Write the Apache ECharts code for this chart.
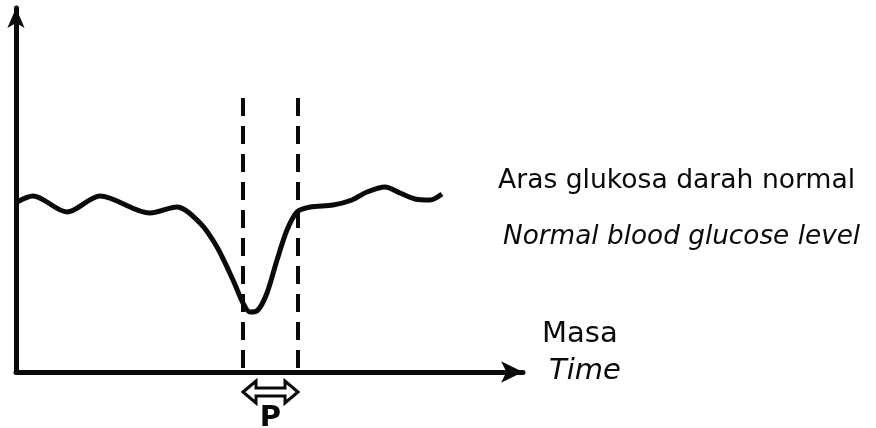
<!DOCTYPE html>
<html>
<head>
<meta charset="utf-8">
<title>Aras glukosa darah</title>
<script src="https://cdn.jsdelivr.net/npm/echarts@6/dist/echarts.min.js"></script>
<style>
	html, body { margin: 0; padding: 0; background: #ffffff; }
	#chart { width: 876px; height: 428px; }
</style>
</head>
<body>
<div id="chart"></div>
<script>
	// masa (x) dan aras glukosa (y), unit bebas
	var timePts = [1, 17, 51, 84, 134, 161, 184, 201, 217, 227, 234, 242, 251, 261, 271, 281, 294, 317, 336, 351, 369, 384, 399, 414, 426];
	var glucose = [170, 176, 160, 176, 159, 165, 149, 125, 92, 69, 60, 62, 79, 112, 142, 160, 165, 167, 172, 180, 185, 179, 173, 172, 178];
	// tempoh P (dua garis putus-putus)
	var pBounds = [227, 282];
	var dashTop = 274;
	var arrowY = -20;
	var labelPY = -46;

	var ink = '#0a0a0a';
	var chart = echarts.init(document.getElementById('chart'));

	var seriesData = timePts.map(function(t, i) {
		return [t, glucose[i]];
	});

	var option = {
		animation: false,
		backgroundColor: '#ffffff',
		grid: {
			left: 16,
			right: 353,
			top: 8,
			bottom: 56
		},
		xAxis: {
			type: 'value',
			min: 0,
			max: 507,
			axisLine: {
				onZero: false,
				symbol: ['none', 'arrow'],
				symbolSize: [16, 22],
				lineStyle: { color: ink, width: 5 }
			},
			axisTick: { show: false },
			axisLabel: { show: false },
			splitLine: { show: false }
		},
		yAxis: {
			type: 'value',
			min: 0,
			max: 364,
			axisLine: {
				show: true,
				onZero: false,
				symbol: ['none', 'arrow'],
				symbolSize: [13, 20],
				lineStyle: { color: ink, width: 5 }
			},
			axisTick: { show: false },
			axisLabel: { show: false },
			splitLine: { show: false }
		},
		series: [{
			type: 'line',
			data: seriesData,
			smooth: 0.3,
			showSymbol: false,
			lineStyle: { color: ink, width: 5 },
			markLine: {
				silent: true,
				symbol: 'none',
				label: { show: false },
				lineStyle: { color: ink, width: 4, type: [18, 10] },
				data: pBounds.map(function(x) {
					return [{ coord: [x, dashTop] }, { coord: [x, 0] }];
				})
			}
		}]
	};
	chart.setOption(option);

	// anak panah berganda dan label P di bawah paksi masa
	var pl = chart.convertToPixel({ gridIndex: 0 }, [pBounds[0], arrowY]);
	var pr = chart.convertToPixel({ gridIndex: 0 }, [pBounds[1], arrowY]);
	var pp = chart.convertToPixel({ gridIndex: 0 }, [(pBounds[0] + pBounds[1]) / 2, labelPY]);
	var xl = pl[0], xr = pr[0], yc = pl[1];
	var h = 13, hw = 11, sw = 4;

	var font = 'DejaVu Sans';
	chart.setOption({
		graphic: [
			{
				type: 'polygon',
				shape: {
					points: [
						[xl, yc], [xl + h, yc - hw], [xl + h, yc - sw], [xr - h, yc - sw], [xr - h, yc - hw],
						[xr, yc], [xr - h, yc + hw], [xr - h, yc + sw], [xl + h, yc + sw], [xl + h, yc + hw]
					]
				},
				style: { fill: '#ffffff', stroke: ink, lineWidth: 3 }
			},
			{
				type: 'text', x: pp[0], y: pp[1],
				style: { text: 'P', font: 'bold 29px ' + font, fill: ink, align: 'center', verticalAlign: 'middle' }
			},
			{
				type: 'text', x: 498, y: 181,
				style: { text: 'Aras glukosa darah normal', font: '26.6px ' + font, fill: ink, verticalAlign: 'middle' }
			},
			{
				type: 'text', x: 503, y: 237,
				style: { text: 'Normal blood glucose level', font: 'italic 26.3px ' + font, fill: ink, verticalAlign: 'middle' }
			},
			{
				type: 'text', x: 542, y: 334,
				style: { text: 'Masa', font: '29px ' + font, fill: ink, verticalAlign: 'middle' }
			},
			{
				type: 'text', x: 549, y: 371,
				style: { text: 'Time', font: 'italic 29px ' + font, fill: ink, verticalAlign: 'middle' }
			}
		]
	});
</script>
</body>
</html>
